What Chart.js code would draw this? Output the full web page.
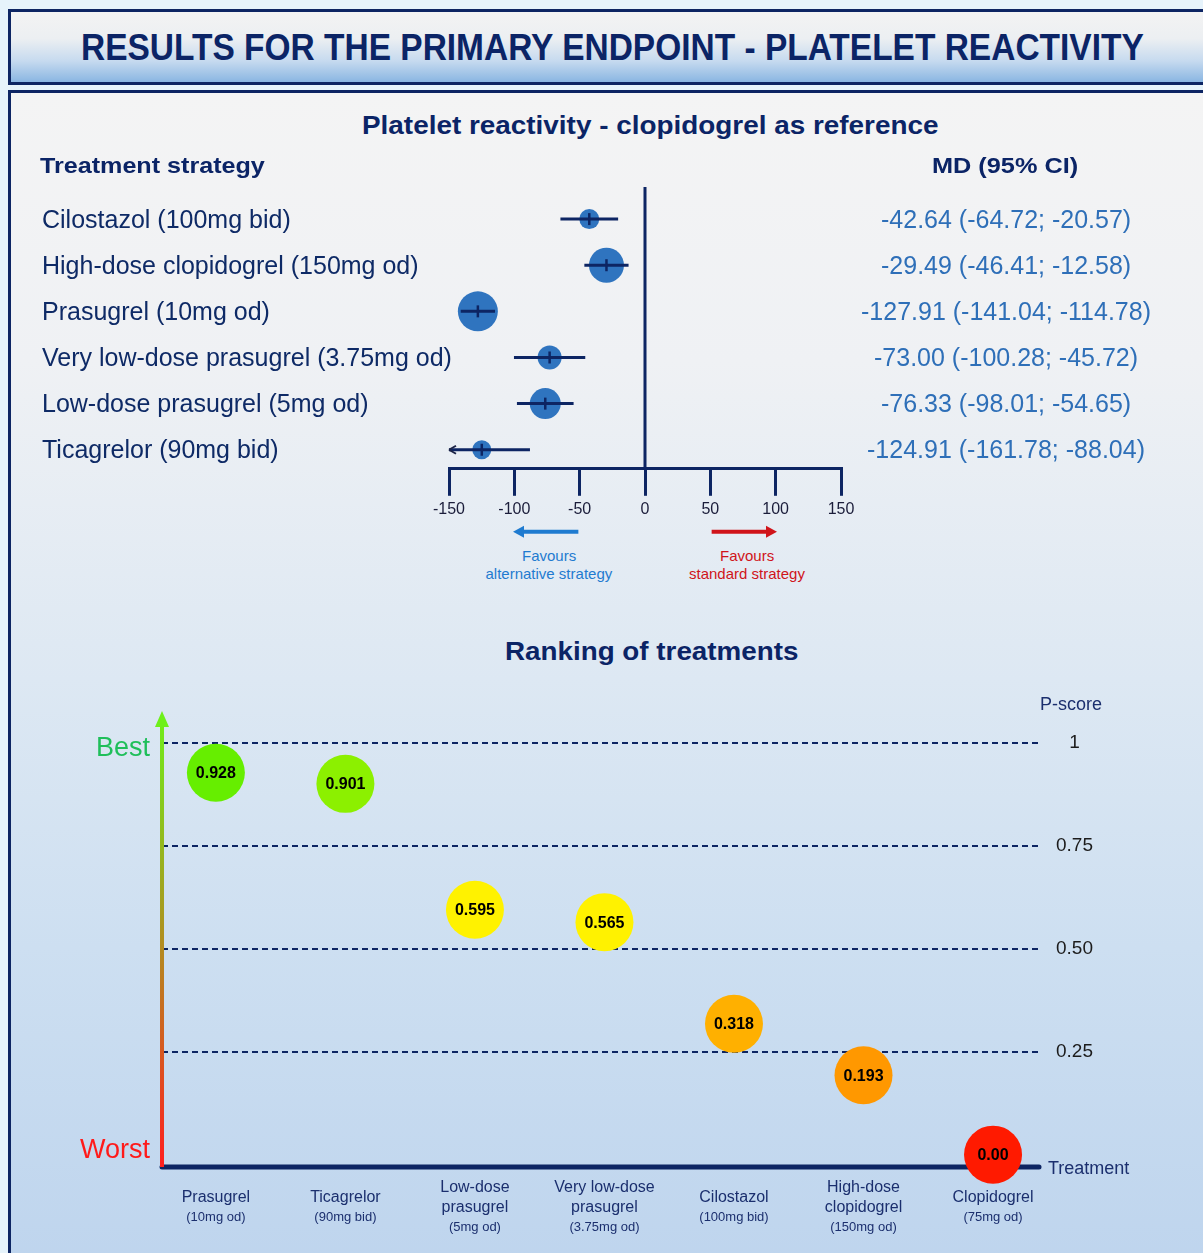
<!DOCTYPE html>
<html><head><meta charset="utf-8">
<script src="https://cdn.jsdelivr.net/npm/chart.js@4.4.1/dist/chart.umd.min.js"></script>
<style>
html,body{margin:0;padding:0;}
body{width:1203px;height:1253px;position:relative;overflow:hidden;background:#e6f3fb;font-family:"Liberation Sans",Arial,Helvetica,sans-serif;}
#hdr{position:absolute;left:8px;top:9px;width:1230px;height:70px;border:3px solid #0d2563;background:linear-gradient(#f3f3f3 0%,#eceff2 38%,#c6daef 70%,#8ab6e2 100%);}
#panel{position:absolute;left:8px;top:90px;width:1230px;height:1220px;border:3px solid #0d2563;background:linear-gradient(#f4f4f4 0%,#eff1f4 22%,#dde8f3 48%,#cddff1 70%,#bcd3ed 100%);}
.t{position:absolute;white-space:nowrap;line-height:1;}
canvas{position:absolute;}
</style>
</head>
<body>
<div id="hdr"></div>
<div id="panel"></div>
<canvas id="forest" width="1203" height="390" style="left:0;top:150px;width:1203px;height:390px"></canvas>
<canvas id="rank" width="1203" height="571" style="left:0;top:682px;width:1203px;height:571px"></canvas>
<script>
// ---------------- DATA ----------------
const treatments = ['Cilostazol (100mg bid)', 'High-dose clopidogrel (150mg od)', 'Prasugrel (10mg od)', 'Very low-dose prasugrel (3.75mg od)', 'Low-dose prasugrel (5mg od)', 'Ticagrelor (90mg bid)'];
const meanDiff = [-42.64, -29.49, -127.91, -73.00, -76.33, -124.91];
const ciLow    = [-64.72, -46.41, -141.04, -100.28, -98.01, -161.78];
const ciHigh   = [-20.57, -12.58, -114.78, -45.72, -54.65, -88.04];
const mdTicks  = [-150, -100, -50, 0, 50, 100, 150];

const rankNames = [['Prasugrel'], ['Ticagrelor'], ['Low-dose', 'prasugrel'], ['Very low-dose', 'prasugrel'], ['Cilostazol'], ['High-dose', 'clopidogrel'], ['Clopidogrel']];
const rankDoses = ['(10mg od)', '(90mg bid)', '(5mg od)', '(3.75mg od)', '(100mg bid)', '(150mg od)', '(75mg od)'];
const pScores   = [0.928, 0.901, 0.595, 0.565, 0.318, 0.193, 0.00];
const pTicks    = [0.25, 0.50, 0.75, 1];

// ---------------- STYLE ----------------
const NAVY = '#0d2563';
const FONT = '"Liberation Sans", Arial, sans-serif';
const RANK_TOP = 682;
const markerRadius = [10, 17.5, 20, 12, 15.5, 9.5];
const bubbleColors = ['#66ee00', '#8cf000', '#fff200', '#fff200', '#ffb000', '#ff9800', '#ff1a00'];

// ---------------- TEXT HELPER ----------------
function put(txt, o) {
  const d = document.createElement('div');
  d.className = 't';
  d.textContent = txt;
  d.style.fontSize = o.size + 'px';
  d.style.fontWeight = o.bold ? 'bold' : 'normal';
  d.style.color = o.color;
  d.style.top = (o.y - o.size / 2) + 'px';
  document.body.appendChild(d);
  const w = d.offsetWidth;
  const sx = o.fitW ? o.fitW / w : 1;
  d.style.transformOrigin = '0 0';
  d.style.transform = 'scaleX(' + sx + ')';
  const ww = w * sx;
  const a = o.align || 'left';
  d.style.left = (a === 'left' ? o.x : a === 'center' ? o.x - ww / 2 : o.x - ww) + 'px';
  return d;
}

// ---------------- FOREST PLOT ----------------
function arrowHead(ctx, x, y, dir, len, half, fill) {
  ctx.beginPath();
  ctx.moveTo(x, y);
  ctx.lineTo(x - dir * len, y - half);
  if (fill) { ctx.lineTo(x - dir * len, y + half); ctx.closePath(); ctx.fill(); }
  else { ctx.moveTo(x, y); ctx.lineTo(x - dir * len, y + half); ctx.stroke(); }
}

const forestPlugin = {
  id: 'forestDecor',
  beforeDatasetsDraw(c) {
    const ctx = c.ctx, xs = c.scales.x, a = c.chartArea;
    const x0 = xs.getPixelForValue(0);
    ctx.save();
    ctx.strokeStyle = NAVY; ctx.lineWidth = 3;
    ctx.beginPath(); ctx.moveTo(x0, a.top); ctx.lineTo(x0, a.bottom); ctx.stroke();
    ctx.restore();
  },
  afterDatasetsDraw(c) {
    const ctx = c.ctx, xs = c.scales.x, ys = c.scales.y, a = c.chartArea;
    ctx.save();
    for (let i = 0; i < meanDiff.length; i++) {
      const y = ys.getPixelForValue(i);
      const lo = Math.max(ciLow[i], xs.min), hi = Math.min(ciHigh[i], xs.max);
      const xl = xs.getPixelForValue(lo), xh = xs.getPixelForValue(hi);
      ctx.strokeStyle = NAVY; ctx.lineWidth = 3; ctx.lineCap = 'butt';
      ctx.beginPath(); ctx.moveTo(xl, y); ctx.lineTo(xh, y); ctx.stroke();
      if (ciLow[i] < xs.min) {
        ctx.strokeStyle = '#1c2447'; ctx.lineWidth = 2;
        arrowHead(ctx, xl, y, -1, 7, 4, false);
      }
      const xm = xs.getPixelForValue(meanDiff[i]);
      ctx.strokeStyle = NAVY; ctx.lineWidth = 2.5;
      ctx.beginPath(); ctx.moveTo(xm, y - 6); ctx.lineTo(xm, y + 6); ctx.stroke();
    }
    // favours arrows
    const ay = a.bottom + 63;
    const drawArrow = (v1, v2, col) => {
      const x1 = xs.getPixelForValue(v1), x2 = xs.getPixelForValue(v2);
      const dir = Math.sign(x2 - x1);
      ctx.strokeStyle = col; ctx.fillStyle = col; ctx.lineWidth = 4;
      ctx.beginPath(); ctx.moveTo(x1, ay); ctx.lineTo(x2 - dir * 8, ay); ctx.stroke();
      arrowHead(ctx, x2, ay, dir, 11, 6, true);
    };
    drawArrow(-51, -101, '#1f7bd0');
    drawArrow(51, 101, '#d0141a');
    ctx.restore();
  }
};

const forest = new Chart(document.getElementById('forest'), {
  type: 'scatter',
  data: {
    datasets: [{
      data: meanDiff.map((v, i) => ({ x: v, y: i })),
      pointRadius: markerRadius,
      pointHoverRadius: markerRadius,
      backgroundColor: '#2f74bf',
      borderWidth: 0
    }]
  },
  options: {
    responsive: false, animation: false, events: [], devicePixelRatio: 1,
    layout: { padding: { left: 449, right: 362, top: 37, bottom: 17 } },
    plugins: { legend: { display: false }, tooltip: { enabled: false } },
    scales: {
      x: {
        type: 'linear', min: -150, max: 150,
        afterBuildTicks: ax => { ax.ticks = mdTicks.map(v => ({ value: v })); },
        grid: { drawOnChartArea: false, drawTicks: true, tickLength: 27, color: NAVY, lineWidth: 3 },
        border: { display: true, color: NAVY, width: 3 },
        ticks: { padding: 4, color: '#1b1d3a', font: { family: FONT, size: 16 }, maxRotation: 0 }
      },
      y: { type: 'linear', display: false, reverse: true, min: -0.696, max: 5.413 }
    }
  },
  plugins: [forestPlugin]
});

// ---------------- RANKING CHART ----------------
const rankPlugin = {
  id: 'rankDecor',
  beforeDatasetsDraw(c) {
    const ctx = c.ctx, a = c.chartArea;
    ctx.save();
    // x axis line
    ctx.strokeStyle = NAVY; ctx.lineWidth = 5; ctx.lineCap = 'round';
    ctx.beginPath(); ctx.moveTo(a.left, a.bottom); ctx.lineTo(a.right, a.bottom); ctx.stroke();
    // y gradient arrow
    const g = ctx.createLinearGradient(0, a.bottom, 0, a.top);
    g.addColorStop(0, '#ff1f1f');
    g.addColorStop(0.55, '#a89a20');
    g.addColorStop(1, '#6ef01a');
    ctx.strokeStyle = g; ctx.lineWidth = 4; ctx.lineCap = 'butt';
    ctx.beginPath(); ctx.moveTo(a.left, a.bottom); ctx.lineTo(a.left, a.top + 12); ctx.stroke();
    ctx.fillStyle = '#6ef01a';
    ctx.beginPath(); ctx.moveTo(a.left, a.top); ctx.lineTo(a.left - 7, a.top + 16); ctx.lineTo(a.left + 7, a.top + 16); ctx.closePath(); ctx.fill();
    ctx.restore();
  },
  afterDatasetsDraw(c) {
    const ctx = c.ctx, xs = c.scales.x, a = c.chartArea;
    const meta = c.getDatasetMeta(0);
    ctx.save();
    ctx.fillStyle = '#000'; ctx.textAlign = 'center'; ctx.textBaseline = 'middle';
    ctx.font = 'bold 16px ' + FONT;
    meta.data.forEach((pt, i) => {
      ctx.fillText(pScores[i] === 0 ? '0.00' : pScores[i].toFixed(3), pt.x, pt.y + 1);
    });
    // category labels
    ctx.fillStyle = '#1b2f6e';
    rankNames.forEach((lines, i) => {
      const x = xs.getPixelForValue(i);
      let y = (lines.length === 1 ? 1198 : 1188) - RANK_TOP;
      ctx.font = '16px ' + FONT;
      lines.forEach(l => { ctx.fillText(l, x, y); y += 20; });
      ctx.font = '13px ' + FONT;
      ctx.fillText(rankDoses[i], x, y - 1);
    });
    ctx.restore();
  }
};

const rank = new Chart(document.getElementById('rank'), {
  type: 'scatter',
  data: {
    datasets: [{
      data: pScores.map((v, i) => ({ x: i, y: v })),
      pointRadius: 29, pointHoverRadius: 29,
      backgroundColor: bubbleColors, borderWidth: 0
    }]
  },
  options: {
    responsive: false, animation: false, events: [], devicePixelRatio: 1,
    clip: false,
    layout: { padding: { left: 162, right: 93, top: 14, bottom: 86 } },
    plugins: { legend: { display: false }, tooltip: { enabled: false } },
    scales: {
      x: { type: 'linear', display: false, min: -0.416, max: 6.355 },
      y: {
        type: 'linear', position: 'right', min: -0.03, max: 1.078,
        afterBuildTicks: ax => { ax.ticks = pTicks.map(v => ({ value: v })); },
        grid: { drawOnChartArea: true, drawTicks: false, color: NAVY, lineWidth: 2 },
        border: { display: false, dash: [6, 4] },
        ticks: {
          padding: 17, crossAlign: 'center', color: '#1c1c1c', font: { family: FONT, size: 19 },
          callback: v => (v === 1 ? '1' : v.toFixed(2))
        }
      }
    }
  },
  plugins: [rankPlugin]
});

// ---------------- TEXT ----------------
const TXT = '#0b2466';
put('RESULTS FOR THE PRIMARY ENDPOINT - PLATELET REACTIVITY', { x: 612, y: 48, size: 36, bold: true, color: TXT, align: 'center', fitW: 1063 });
put('Platelet reactivity - clopidogrel as reference', { x: 650, y: 125, size: 26, bold: true, color: TXT, align: 'center', fitW: 577 });
put('Treatment strategy', { x: 40, y: 166, size: 22, bold: true, color: TXT, fitW: 225 });
put('MD (95% CI)', { x: 1005, y: 166, size: 22, bold: true, color: TXT, align: 'center', fitW: 146 });

const ysF = forest.scales.y;
treatments.forEach((t, i) => {
  const y = 150 + ysF.getPixelForValue(i);
  put(t, { x: 42, y: y, size: 25, color: '#0e2a66' });
  const txt = meanDiff[i].toFixed(2) + ' (' + ciLow[i].toFixed(2) + '; ' + ciHigh[i].toFixed(2) + ')';
  put(txt, { x: 1006, y: y, size: 25, color: '#2e6fb8', align: 'center' });
});

put('Favours', { x: 549, y: 555, size: 15, color: '#1f7bd0', align: 'center' });
put('alternative strategy', { x: 549, y: 573, size: 15, color: '#1f7bd0', align: 'center' });
put('Favours', { x: 747, y: 555, size: 15, color: '#d0141a', align: 'center' });
put('standard strategy', { x: 747, y: 573, size: 15, color: '#d0141a', align: 'center' });

put('Ranking of treatments', { x: 652, y: 651, size: 26, bold: true, color: TXT, align: 'center', fitW: 294 });
put('P-score', { x: 1071, y: 704, size: 18, color: '#1b2f6e', align: 'center' });
put('Best', { x: 150, y: 747, size: 27, color: '#1fbf5a', align: 'right' });
put('Worst', { x: 150, y: 1149, size: 27, color: '#ff1a1a', align: 'right' });
put('Treatment', { x: 1048, y: 1168, size: 18, color: '#1b2f6e' });
</script>
</body></html>
